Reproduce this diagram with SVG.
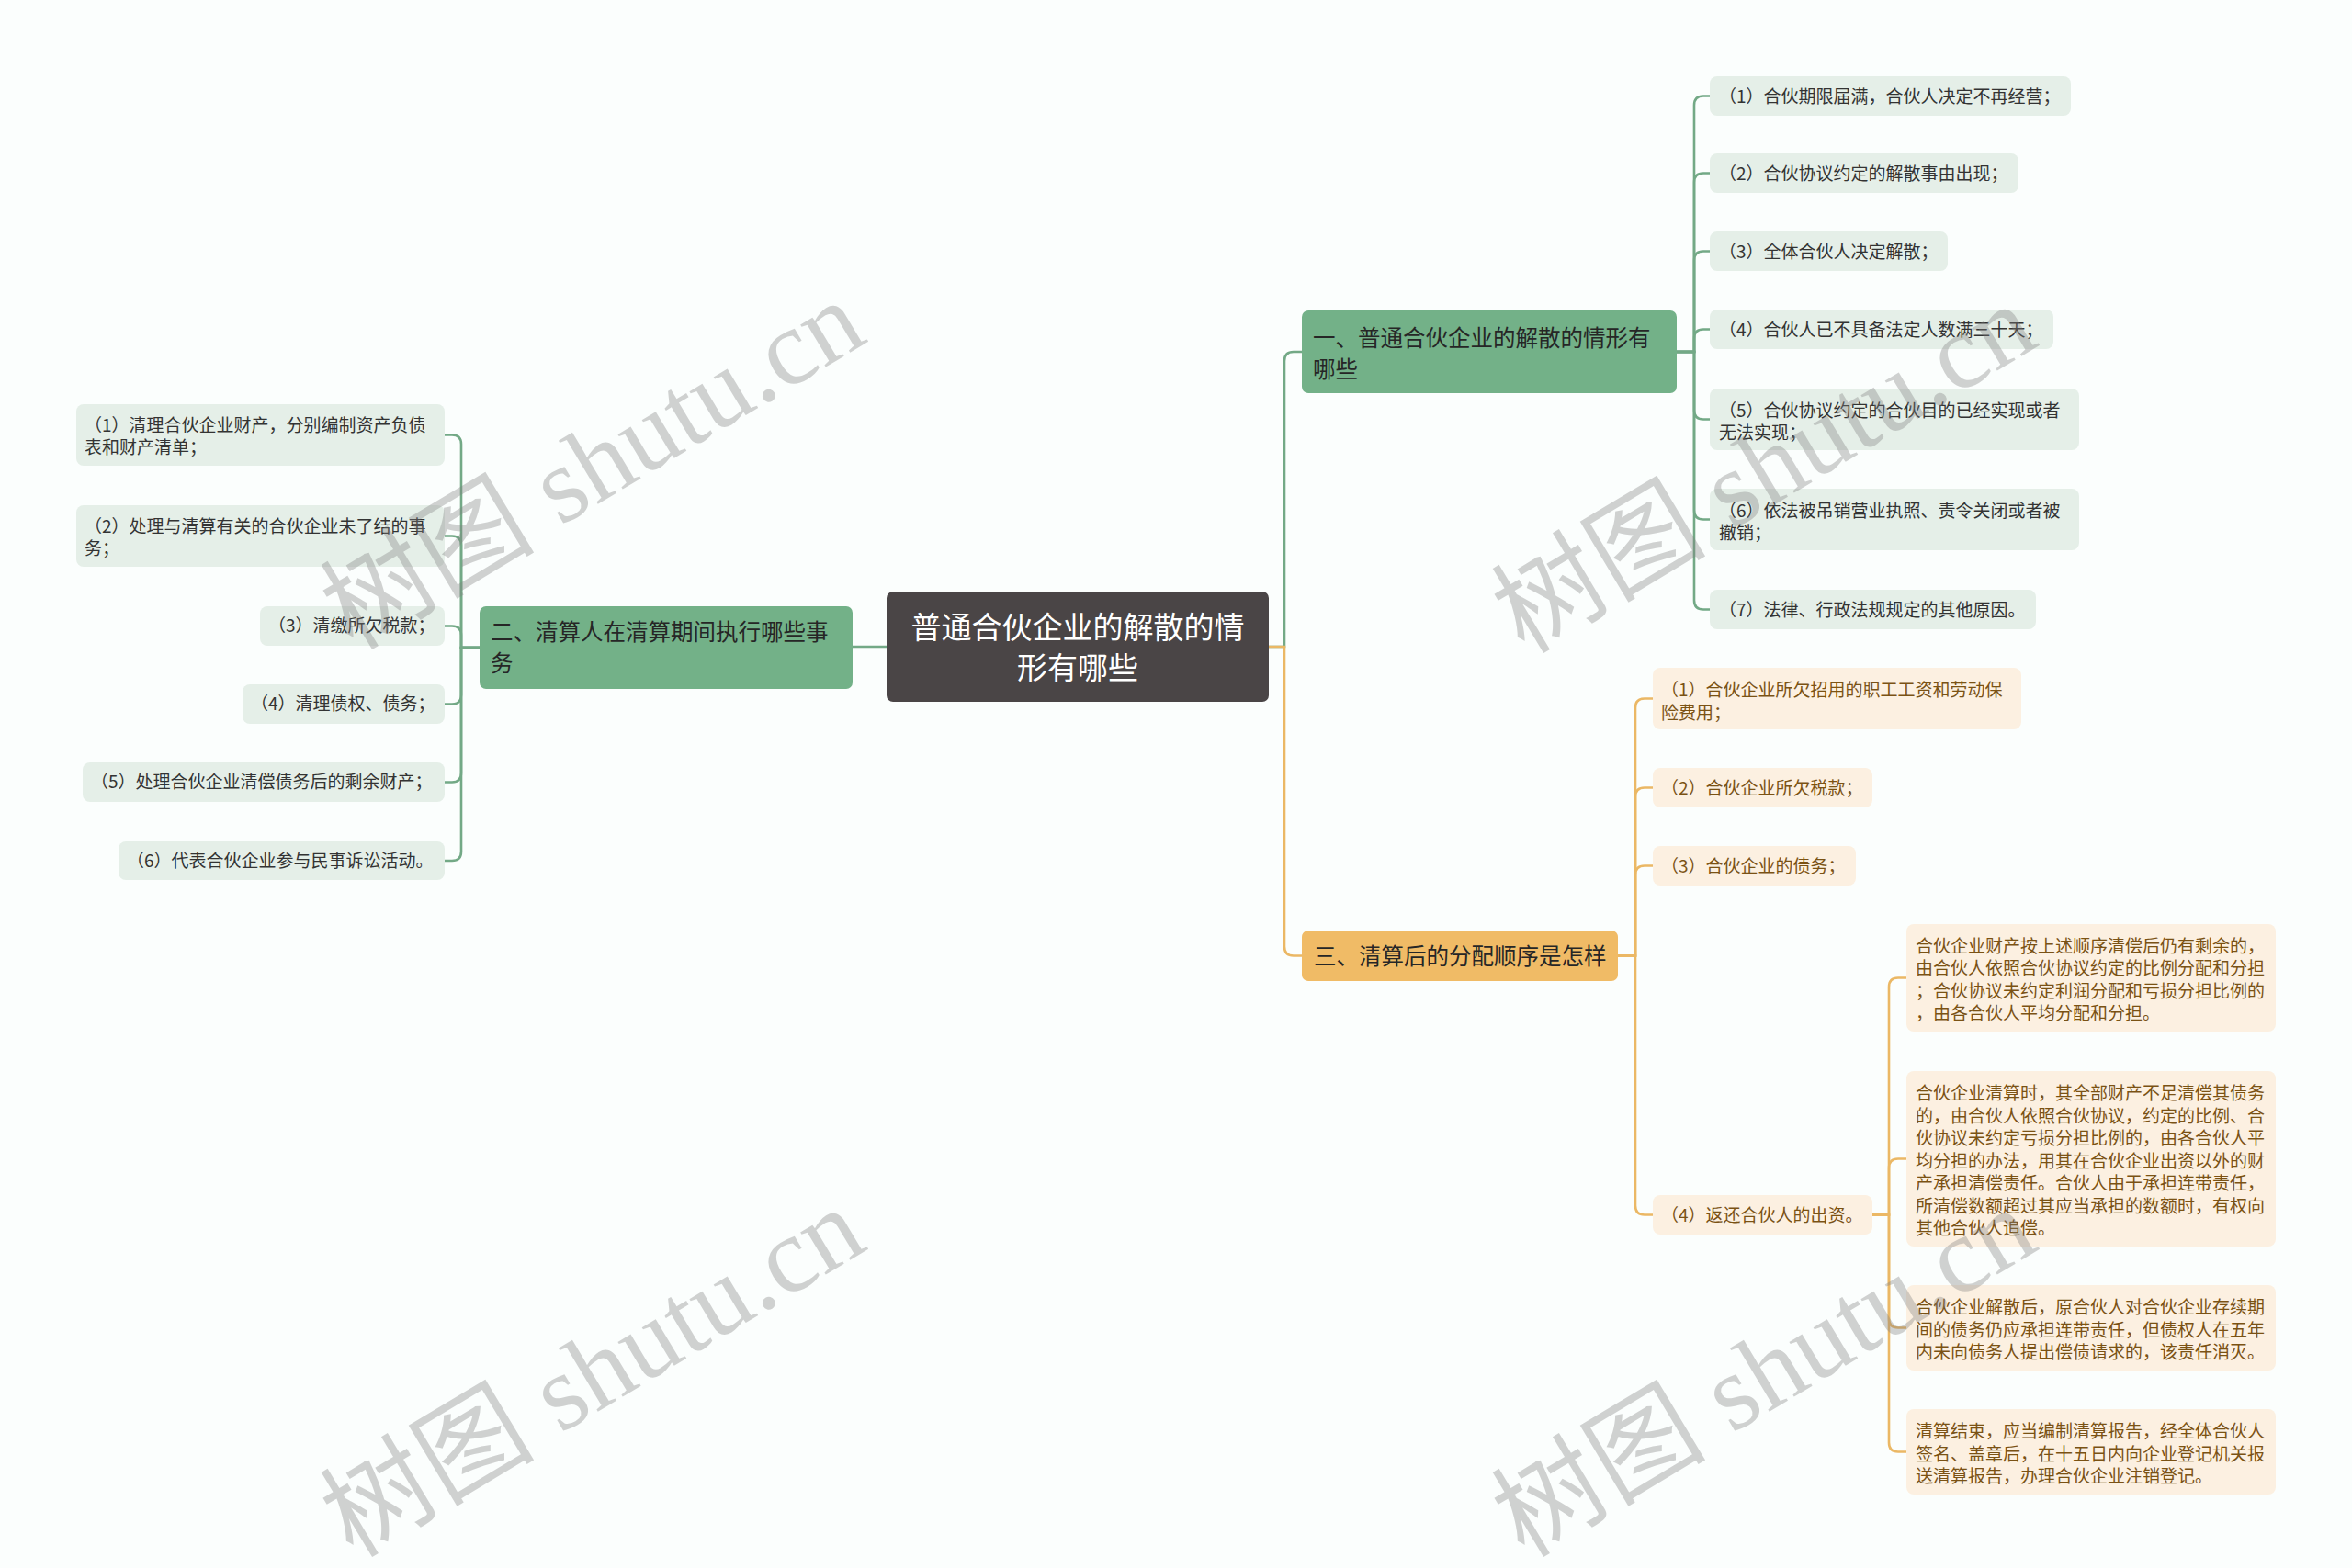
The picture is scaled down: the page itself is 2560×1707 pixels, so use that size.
<svg xmlns="http://www.w3.org/2000/svg" width="2560" height="1707" viewBox="0 0 2560 1707">
<style>
text{font-family:"Noto Sans CJK SC","Noto Sans",sans-serif;dominant-baseline:central}
.root rect{fill:#4a4546}
.root text{fill:#ffffff;font-size:33px;text-anchor:middle}
.main-g rect{fill:#73b188}
.main-o rect{fill:#f0bb66}
.main-g text,.main-o text{fill:#262626;font-size:24.5px}
.leaf-g rect{fill:#e5efe8}
.leaf-g text{fill:#333333;font-size:19px}
.leaf-o rect{fill:#fcf0e1}
.leaf-o text{fill:#7a5214;font-size:19px}
.lg{fill:none;stroke:#73a986;stroke-width:2.6}
.lo{fill:none;stroke:#ebb865;stroke-width:2.6}
.wm{font-family:"Liberation Serif","Noto Sans CJK SC",serif;font-size:117px;fill:#7f7f7f;opacity:0.35;text-anchor:middle}
</style>
<rect x="0" y="0" width="2560" height="1707" fill="#fbfefd"/>
<g id="connectors">
<path class="lg" d="M965,704 H928"/>
<path class="lg" d="M1381,704 H1398 V393 Q1398,383 1408,383 H1417"/>
<path class="lo" d="M1381,704 H1398 V1030.5 Q1398,1040.5 1408,1040.5 H1417"/>
<path class="lg" d="M1825,383 H1844 V114.5 Q1844,104.5 1854,104.5 H1861"/>
<path class="lg" d="M1825,383 H1844 V198.5 Q1844,188.5 1854,188.5 H1861"/>
<path class="lg" d="M1825,383 H1844 V283.5 Q1844,273.5 1854,273.5 H1861"/>
<path class="lg" d="M1825,383 H1844 V368.5 Q1844,358.5 1854,358.5 H1861"/>
<path class="lg" d="M1825,383 H1844 V446.5 Q1844,456.5 1854,456.5 H1861"/>
<path class="lg" d="M1825,383 H1844 V555.5 Q1844,565.5 1854,565.5 H1861"/>
<path class="lg" d="M1825,383 H1844 V653.5 Q1844,663.5 1854,663.5 H1861"/>
<path class="lg" d="M522,705 H502 V483.5 Q502,473.5 492,473.5 H484"/>
<path class="lg" d="M522,705 H502 V593.5 Q502,583.5 492,583.5 H484"/>
<path class="lg" d="M522,705 H502 V691.5 Q502,681.5 492,681.5 H484"/>
<path class="lg" d="M522,705 H502 V756.5 Q502,766.5 492,766.5 H484"/>
<path class="lg" d="M522,705 H502 V841.5 Q502,851.5 492,851.5 H484"/>
<path class="lg" d="M522,705 H502 V927 Q502,937 492,937 H484"/>
<path class="lo" d="M1761,1040.5 H1780 V770.5 Q1780,760.5 1790,760.5 H1799"/>
<path class="lo" d="M1761,1040.5 H1780 V867.5 Q1780,857.5 1790,857.5 H1799"/>
<path class="lo" d="M1761,1040.5 H1780 V952.5 Q1780,942.5 1790,942.5 H1799"/>
<path class="lo" d="M1761,1040.5 H1780 V1312.5 Q1780,1322.5 1790,1322.5 H1799"/>
<path class="lo" d="M2038,1322.5 H2056 V1074.5 Q2056,1064.5 2066,1064.5 H2075"/>
<path class="lo" d="M2038,1322.5 H2056 V1271.5 Q2056,1261.5 2066,1261.5 H2075"/>
<path class="lo" d="M2038,1322.5 H2056 V1435.5 Q2056,1445.5 2066,1445.5 H2075"/>
<path class="lo" d="M2038,1322.5 H2056 V1570.5 Q2056,1580.5 2066,1580.5 H2075"/>
</g>
<g id="root" class="root">
<rect x="965" y="644" width="416" height="120" rx="7"/>
<text x="1173" y="681">普通合伙企业的解散的情</text>
<text x="1173" y="725">形有哪些</text>
</g>
<g id="n1" class="main-g">
<rect x="1417" y="338" width="408" height="90" rx="7"/>
<text x="1429" y="366">一、普通合伙企业的解散的情形有</text>
<text x="1429" y="400">哪些</text>
</g>
<g id="n2" class="main-g">
<rect x="522" y="660" width="406" height="90" rx="7"/>
<text x="534" y="686">二、清算人在清算期间执行哪些事</text>
<text x="534" y="720">务</text>
</g>
<g id="n3" class="main-o">
<rect x="1417" y="1013" width="344" height="55" rx="7"/>
<text x="1430" y="1039.5">三、清算后的分配顺序是怎样</text>
</g>
<g id="n1-1" class="leaf-g"><rect x="1861" y="83" width="393" height="43" rx="8"/><text x="1871" y="103.5">（1）合伙期限届满，合伙人决定不再经营；</text></g>
<g id="n1-2" class="leaf-g"><rect x="1861" y="167" width="336" height="43" rx="8"/><text x="1871" y="187.5">（2）合伙协议约定的解散事由出现；</text></g>
<g id="n1-3" class="leaf-g"><rect x="1861" y="252" width="259" height="43" rx="8"/><text x="1871" y="272.5">（3）全体合伙人决定解散；</text></g>
<g id="n1-4" class="leaf-g"><rect x="1861" y="337" width="374" height="43" rx="8"/><text x="1871" y="357.5">（4）合伙人已不具备法定人数满三十天；</text></g>
<g id="n1-5" class="leaf-g"><rect x="1861" y="423" width="402" height="67" rx="8"/><text x="1871" y="445">（5）合伙协议约定的合伙目的已经实现或者</text><text x="1871" y="469.5">无法实现；</text></g>
<g id="n1-6" class="leaf-g"><rect x="1861" y="532" width="402" height="67" rx="8"/><text x="1871" y="554">（6）依法被吊销营业执照、责令关闭或者被</text><text x="1871" y="578.5">撤销；</text></g>
<g id="n1-7" class="leaf-g"><rect x="1861" y="642" width="355" height="43" rx="8"/><text x="1871" y="662.5">（7）法律、行政法规规定的其他原因。</text></g>
<g id="n2-1" class="leaf-g"><rect x="83" y="440" width="401" height="67" rx="8"/><text x="92" y="461">（1）清理合伙企业财产，分别编制资产负债</text><text x="92" y="485.5">表和财产清单；</text></g>
<g id="n2-2" class="leaf-g"><rect x="83" y="550" width="401" height="67" rx="8"/><text x="92" y="571">（2）处理与清算有关的合伙企业未了结的事</text><text x="92" y="595.5">务；</text></g>
<g id="n2-3" class="leaf-g"><rect x="283" y="660" width="201" height="43" rx="8"/><text x="292" y="679.5">（3）清缴所欠税款；</text></g>
<g id="n2-4" class="leaf-g"><rect x="264" y="745" width="220" height="43" rx="8"/><text x="273" y="764.5">（4）清理债权、债务；</text></g>
<g id="n2-5" class="leaf-g"><rect x="90" y="830" width="394" height="43" rx="8"/><text x="99" y="849.5">（5）处理合伙企业清偿债务后的剩余财产；</text></g>
<g id="n2-6" class="leaf-g"><rect x="129" y="916" width="355" height="42" rx="8"/><text x="138" y="935">（6）代表合伙企业参与民事诉讼活动。</text></g>
<g id="n3-1" class="leaf-o"><rect x="1799" y="727" width="401" height="67" rx="8"/><text x="1808" y="749.5">（1）合伙企业所欠招用的职工工资和劳动保</text><text x="1808" y="774">险费用；</text></g>
<g id="n3-2" class="leaf-o"><rect x="1799" y="836" width="239" height="43" rx="8"/><text x="1808" y="856.5">（2）合伙企业所欠税款；</text></g>
<g id="n3-3" class="leaf-o"><rect x="1799" y="921" width="221" height="43" rx="8"/><text x="1808" y="941.5">（3）合伙企业的债务；</text></g>
<g id="n3-4" class="leaf-o"><rect x="1799" y="1301" width="239" height="43" rx="8"/><text x="1808" y="1321.5">（4）返还合伙人的出资。</text></g>
<g id="n3-4-1" class="leaf-o"><rect x="2075" y="1006" width="402" height="117" rx="8"/>
<text x="2085" y="1028">合伙企业财产按上述顺序清偿后仍有剩余的，</text>
<text x="2085" y="1052.5">由合伙人依照合伙协议约定的比例分配和分担</text>
<text x="2085" y="1077">；合伙协议未约定利润分配和亏损分担比例的</text>
<text x="2085" y="1101.5">，由各合伙人平均分配和分担。</text></g>
<g id="n3-4-2" class="leaf-o"><rect x="2075" y="1166" width="402" height="191" rx="8"/>
<text x="2085" y="1188.5">合伙企业清算时，其全部财产不足清偿其债务</text>
<text x="2085" y="1213">的，由合伙人依照合伙协议，约定的比例、合</text>
<text x="2085" y="1237.5">伙协议未约定亏损分担比例的，由各合伙人平</text>
<text x="2085" y="1262">均分担的办法，用其在合伙企业出资以外的财</text>
<text x="2085" y="1286.5">产承担清偿责任。合伙人由于承担连带责任，</text>
<text x="2085" y="1311">所清偿数额超过其应当承担的数额时，有权向</text>
<text x="2085" y="1335.5">其他合伙人追偿。</text></g>
<g id="n3-4-3" class="leaf-o"><rect x="2075" y="1399" width="402" height="93" rx="8"/>
<text x="2085" y="1421.5">合伙企业解散后，原合伙人对合伙企业存续期</text>
<text x="2085" y="1446">间的债务仍应承担连带责任，但债权人在五年</text>
<text x="2085" y="1470.5">内未向债务人提出偿债请求的，该责任消灭。</text></g>
<g id="n3-4-4" class="leaf-o"><rect x="2075" y="1534" width="402" height="93" rx="8"/>
<text x="2085" y="1556.5">清算结束，应当编制清算报告，经全体合伙人</text>
<text x="2085" y="1581">签名、盖章后，在十五日内向企业登记机关报</text>
<text x="2085" y="1605.5">送清算报告，办理合伙企业注销登记。</text></g>
<g id="watermarks">
<text class="wm" transform="translate(645,506) rotate(-31)">树图 shutu.cn</text>
<text class="wm" transform="translate(1920,510) rotate(-31)">树图 shutu.cn</text>
<text class="wm" transform="translate(645,1494) rotate(-31)">树图 shutu.cn</text>
<text class="wm" transform="translate(1920,1494) rotate(-31)">树图 shutu.cn</text>
</g>
</svg>
